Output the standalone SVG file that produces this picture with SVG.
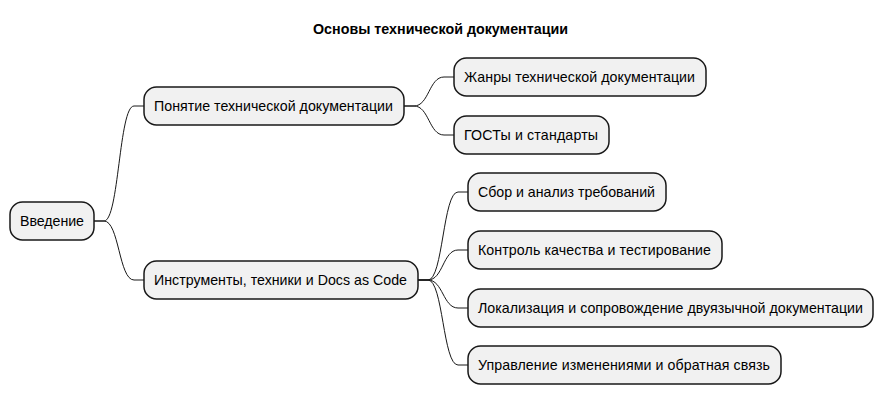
<svg xmlns="http://www.w3.org/2000/svg" width="884" height="405" viewBox="0 0 884 405">
<style>
.node rect{fill:#F1F1F1;stroke:#181818;stroke-width:1.5}
.node text{font-family:"Liberation Sans",Arial,sans-serif;font-size:14.2px;fill:#000000}
.title{font-family:"Liberation Sans",Arial,sans-serif;font-size:14px;font-weight:bold;fill:#000000}
#connectors path{fill:none;stroke:#181818;stroke-width:1}
</style>
<rect width="884" height="405" fill="#FFFFFF"/>
<text class="title" x="313" y="34" textLength="255" lengthAdjust="spacingAndGlyphs">Основы технической документации</text>
<g id="connectors">
<path d="M94,221 L104,221 C119,221 119,106 134,106 L144,106"/>
<path d="M94,221 L104,221 C119,221 119,280 134,280 L144,280"/>
<path d="M404,106 L414,106 C429,106 429,77 444,77 L454,77"/>
<path d="M404,106 L414,106 C429,106 429,135 444,135 L454,135"/>
<path d="M418,280 L428,280 C443,280 443,192 458,192 L468,192"/>
<path d="M418,280 L428,280 C443,280 443,250 458,250 L468,250"/>
<path d="M418,280 L428,280 C443,280 443,308 458,308 L468,308"/>
<path d="M418,280 L428,280 C443,280 443,365 458,365 L468,365"/>
</g>
<g id="n-root" class="node"><rect x="10" y="202" width="84" height="38" rx="12.5"/><text x="20" y="226" textLength="64">Введение</text></g>
<g id="n-concept" class="node"><rect x="144" y="87" width="260" height="38" rx="12.5"/><text x="154" y="111" textLength="239">Понятие технической документации</text></g>
<g id="n-tools" class="node"><rect x="144" y="261" width="274" height="38" rx="12.5"/><text x="154" y="285" textLength="253">Инструменты, техники и Docs as Code</text></g>
<g id="n-genres" class="node"><rect x="454" y="58" width="252" height="38" rx="12.5"/><text x="464" y="82" textLength="231">Жанры технической документации</text></g>
<g id="n-gost" class="node"><rect x="454" y="116" width="155" height="38" rx="12.5"/><text x="464" y="140" textLength="134">ГОСТы и стандарты</text></g>
<g id="n-req" class="node"><rect x="468" y="173" width="198" height="38" rx="12.5"/><text x="478" y="197" textLength="177">Сбор и анализ требований</text></g>
<g id="n-qa" class="node"><rect x="468" y="231" width="254" height="38" rx="12.5"/><text x="478" y="255" textLength="233">Контроль качества и тестирование</text></g>
<g id="n-l10n" class="node"><rect x="468" y="289" width="405" height="38" rx="12.5"/><text x="478" y="313" textLength="385">Локализация и сопровождение двуязычной документации</text></g>
<g id="n-change" class="node"><rect x="468" y="346" width="313" height="38" rx="12.5"/><text x="478" y="370" textLength="292">Управление изменениями и обратная связь</text></g>
</svg>
